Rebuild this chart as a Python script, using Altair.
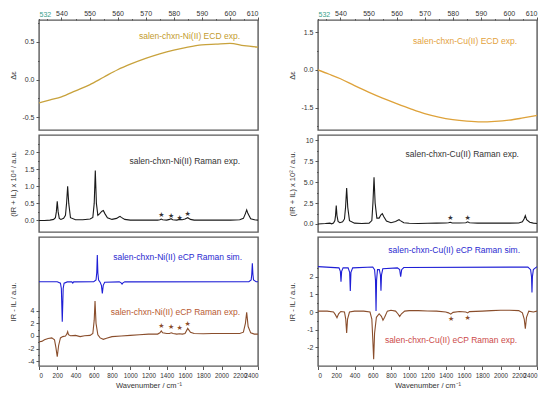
import altair as alt
import pandas as pd

FONT = "Liberation Sans"

# ---------------- data ----------------
ecd_nm = [532, 536, 540, 545, 550, 555, 560, 565, 570, 575, 580, 585, 590, 595, 600, 605, 610]
ni_ecd = [-0.31, -0.27, -0.23, -0.15, -0.07, 0.03, 0.13, 0.21, 0.28, 0.34, 0.39, 0.43, 0.46, 0.47, 0.48, 0.45, 0.43]
cu_ecd = [0.0, -0.17, -0.35, -0.62, -0.88, -1.12, -1.34, -1.55, -1.74, -1.88, -1.98, -2.04, -2.07, -2.05, -2.0, -1.91, -1.81]

ni_raman_x = [0, 60, 120, 160, 180, 190, 200, 210, 222, 240, 270, 290, 302, 314, 326, 345, 400, 480, 560, 590,
              605, 617, 629, 645, 665, 690, 705, 722, 750, 800, 850, 875, 888, 902, 940, 1000, 1100, 1200, 1300,
              1325, 1340, 1355, 1400, 1430, 1447, 1465, 1510, 1540, 1570, 1600, 1630, 1660, 1700, 1800, 1900,
              2000, 2100, 2200, 2240, 2262, 2276, 2290, 2320, 2360, 2400]
ni_raman_y = [0.0, 0.0, 0.01, 0.03, 0.08, 0.25, 0.56, 0.25, 0.06, 0.03, 0.06, 0.15, 0.5, 1.0, 0.5, 0.08, 0.02, 0.02,
              0.04, 0.09, 0.5, 1.47, 0.5, 0.15, 0.2, 0.27, 0.29, 0.2, 0.08, 0.03, 0.06, 0.1, 0.12, 0.09, 0.03, 0.01,
              0.01, 0.01, 0.01, 0.02, 0.04, 0.02, 0.01, 0.03, 0.05, 0.02, 0.01, 0.03, 0.02, 0.04, 0.08, 0.03, 0.01,
              0.01, 0.01, 0.01, 0.01, 0.02, 0.06, 0.2, 0.31, 0.2, 0.05, 0.02, 0.01]

cu_raman_x = [0, 80, 130, 150, 170, 185, 192, 200, 208, 220, 240, 270, 290, 302, 314, 326, 345, 400, 480, 560,
              590, 602, 614, 626, 645, 670, 690, 705, 720, 750, 800, 850, 875, 888, 902, 940, 1000, 1100, 1200,
              1300, 1400, 1430, 1450, 1470, 1550, 1620, 1640, 1660, 1750, 1900, 2000, 2100, 2200, 2240, 2258,
              2272, 2286, 2320, 2360, 2400]
cu_raman_y = [0.0, 0.05, 0.1, 0.02, 0.1, 0.4, 1.0, 2.19, 1.0, 0.3, 0.15, 0.25, 0.6, 2.0, 4.3, 2.0, 0.4, 0.1, 0.05,
              0.1, 0.4, 2.5, 5.58, 2.5, 0.7, 0.7, 1.1, 1.23, 0.9, 0.35, 0.15, 0.3, 0.45, 0.51, 0.4, 0.15, 0.08,
              0.05, 0.08, 0.1, 0.12, 0.15, 0.2, 0.12, 0.12, 0.15, 0.25, 0.15, 0.1, 0.12, 0.1, 0.1, 0.12, 0.25,
              0.6, 0.99, 0.5, 0.2, 0.1, 0.05]

ni_sim_x = [0, 200, 235, 245, 255, 265, 275, 310, 360, 370, 380, 600, 625, 633, 639, 645, 653, 670, 684, 694,
            704, 720, 880, 900, 910, 920, 940, 2300, 2325, 2332, 2338, 2344, 2351, 2380, 2400]
ni_sim_y = [8.58, 8.58, 8.35, 7.5, 2.26, 7.5, 8.35, 8.55, 8.55, 8.35, 8.55, 8.58, 8.85, 10.0, 12.8, 10.0, 8.85,
            8.5, 8.0, 6.74, 8.0, 8.5, 8.55, 8.4, 8.2, 8.4, 8.55, 8.58, 8.85, 9.8, 11.5, 9.8, 8.85, 8.58, 8.58]

ni_cp_x = [0, 30, 60, 100, 140, 170, 185, 200, 215, 235, 260, 290, 305, 314, 323, 345, 400, 450, 500, 560, 590,
           605, 614, 625, 645, 670, 705, 740, 800, 900, 1000, 1100, 1200, 1300, 1325, 1340, 1355, 1400, 1430,
           1450, 1470, 1510, 1540, 1570, 1600, 1630, 1660, 1700, 1800, 1900, 2000, 2100, 2200, 2240, 2262, 2276,
           2292, 2320, 2360, 2400]
ni_cp_y = [-0.9, -0.85, -0.6, -0.4, -0.3, -0.6, -1.8, -3.27, -1.5, -0.3, -0.1, 0.0, 0.3, 0.68, 0.2, 0.05, 0.1,
           -0.1, 0.05, 0.1, 0.4, 2.5, 5.53, 2.0, 0.2, -0.3, -0.52, -0.35, -0.1, 0.0, 0.1, 0.2, 0.3, 0.3, 0.5, 0.8,
           0.5, 0.4, 0.4, 0.5, 0.4, 0.3, 0.35, 0.3, 0.4, 1.2, 0.6, 0.4, 0.35, 0.4, 0.4, 0.4, 0.4, 0.6, 2.0, 3.74,
           1.5, 0.5, 0.3, 0.3]

cu_sim_x = [0, 230, 245, 252, 259, 275, 330, 347, 354, 361, 380, 600, 620, 630, 636, 642, 652, 672, 684, 690,
            696, 710, 870, 895, 906, 917, 940, 2300, 2330, 2340, 2345, 2350, 2360, 2400]
cu_sim_y = [2.57, 2.5, 2.3, 1.72, 2.3, 2.5, 2.5, 2.25, 1.19, 2.25, 2.5, 2.55, 2.4, 1.8, 0.06, 1.8, 2.4, 2.4, 2.1,
            1.2, 2.1, 2.45, 2.5, 2.4, 2.0, 2.4, 2.52, 2.55, 2.4, 2.0, 1.1, 2.0, 2.4, 2.57]

cu_cp_x = [0, 100, 170, 190, 208, 226, 250, 290, 304, 314, 324, 345, 400, 500, 570, 590, 600, 610, 620, 640, 670,
           695, 712, 730, 760, 800, 850, 875, 895, 915, 950, 1000, 1100, 1200, 1300, 1400, 1430, 1455, 1480,
           1550, 1620, 1640, 1660, 1800, 1900, 2000, 2100, 2200, 2240, 2260, 2272, 2285, 2310, 2360, 2400]
cu_cp_y = [0.05, 0.05, 0.0, -0.15, -0.32, -0.1, 0.03, 0.0, -0.4, -1.19, -0.4, 0.0, 0.05, 0.05, 0.0, -0.4, -1.5,
           -2.68, -1.2, -0.3, -0.1, -0.25, -0.47, -0.3, 0.05, 0.1, 0.05, -0.1, -0.25, -0.1, 0.05, 0.08, 0.08,
           0.06, 0.05, 0.0, -0.05, -0.12, -0.02, 0.03, 0.0, -0.05, 0.02, 0.05, 0.08, 0.1, 0.1, 0.08, -0.05, -0.4,
           -0.94, -0.3, 0.05, 0.0, 0.05]

ni_star_x = [1340, 1447, 1540, 1630]
ni_star_raman_y = [0.15, 0.14, 0.08, 0.2]
ni_star_cp_y = [1.58, 1.47, 1.2, 1.85]
cu_star_raman_x = [1450, 1640]
cu_star_raman_y = [0.72, 0.72]
cu_star_cp_x = [1460, 1640]
cu_star_cp_y = [-0.37, -0.32]

nm_ticks = [532] + list(range(535, 611, 5))
wn_ticks = list(range(0, 2401, 200))

W = 219
H_TOP, H_MID, H_BOT = 110, 97, 129
TXT = "#333333"
TICK = "#555555"


def df(xs, ys):
    return pd.DataFrame({"x": xs, "y": ys})


def yaxis(values, step, title, h, fmt=".1f", label_expr=None):
    test = f"abs(datum.value / {step} - round(datum.value / {step})) < 0.001"
    if label_expr is None:
        label_expr = f"{test} ? replace(format(datum.value, '{fmt}'), '\u2212', '-') : ''"
    return alt.Axis(values=values, labelExpr=label_expr, title=title,
                    tickSize={"condition": {"test": test, "value": 3}, "value": 1.5},
                    domain=False, grid=False, labelFontSize=7, titleFontSize=7.5,
                    titleX=-22, titleY=h / 2, labelPadding=2, tickColor=TICK,
                    labelColor=TXT, titleColor=TXT, titleFontWeight="normal",
                    labelOverlap=False)


top_axis = alt.Axis(orient="top", values=nm_ticks,
                    labelExpr="datum.value == 532 || datum.value % 10 == 0 ? datum.label : ''",
                    tickSize={"condition": {"test": "datum.value % 10 == 0", "value": 3}, "value": 1.5},
                    labelColor={"condition": {"test": "datum.value == 532", "value": "#3a9f8c"}, "value": TXT},
                    title=None, domain=False, grid=False, labelFontSize=7, labelPadding=1,
                    tickColor=TICK, labelOverlap=False)

bottom_axis = alt.Axis(values=wn_ticks, labelExpr="format(datum.value, 'd')", tickSize=3.5,
                       title="Wavenumber / cm\u207b\u00b9", titleFontSize=7.5, titleFontWeight="normal",
                       titleColor=TXT, titlePadding=3, domain=False, grid=False, labelFontSize=6.3,
                       labelPadding=3, labelColor=TXT, tickColor=TICK, labelOverlap=False)

x_nm = alt.X("x:Q", scale=alt.Scale(domain=[532, 610], nice=False, zero=False), axis=top_axis)
x_wn_mid = alt.X("x:Q", scale=alt.Scale(domain=[0, 2400], nice=False, zero=False), axis=None)
x_wn_bot = alt.X("x:Q", scale=alt.Scale(domain=[0, 2400], nice=False, zero=False), axis=bottom_axis)


def line(data, x, y, color, width=1.1, interp="linear"):
    return alt.Chart(data).mark_line(color=color, strokeWidth=width, interpolate=interp, clip=True).encode(x=x, y=y)


def label(text, px, py, color):
    return alt.Chart(pd.DataFrame({"t": [text]})).mark_text(
        align="right", baseline="middle", fontSize=8.5, color=color, font=FONT
    ).encode(x=alt.value(px), y=alt.value(py), text="t:N")


def stars(xs, ys, x, y, color):
    return alt.Chart(df(xs, ys)).mark_text(text="\u2605", fontSize=7, color=color, font="DejaVu Sans",
                                           baseline="middle").encode(x=x, y=y)


# ---------- left column (Ni) ----------
y_ni_ecd = alt.Y("y:Q", scale=alt.Scale(domain=[-0.67, 0.79], nice=False, zero=False),
                 axis=yaxis([-0.5, -0.25, 0, 0.25, 0.5, 0.75], 0.5, "\u0394\u03b5", H_TOP))
ni_top = alt.layer(
    line(df(ecd_nm, ni_ecd), x_nm, y_ni_ecd, "#c8a23c", 1.3, "monotone"),
    label("salen-chxn-Ni(II) ECD exp.", 201, 16, "#c39b2e"),
).properties(width=W, height=H_TOP)

y_ni_raman = alt.Y("y:Q", scale=alt.Scale(domain=[-0.34, 2.51], nice=False, zero=False),
                   axis=yaxis([0, 0.25, 0.5, 0.75, 1.0, 1.25, 1.5, 1.75, 2.0, 2.25], 0.5,
                              "(IR + IL) x 10\u2074 / a.u.", H_MID))
ni_mid = alt.layer(
    line(df(ni_raman_x, ni_raman_y), x_wn_mid, y_ni_raman, "#1a1a1a", 1.1),
    stars(ni_star_x, ni_star_raman_y, x_wn_mid, y_ni_raman, "#333333"),
    label("salen-chxn-Ni(II) Raman exp.", 201, 26, "#333333"),
).properties(width=W, height=H_MID)

y_ni_cp = alt.Y("y:Q", scale=alt.Scale(domain=[-4.74, 15.64], nice=False, zero=False),
                axis=yaxis([-4, -3, -2, -1, 0, 1, 2, 3, 4], 2, "IR - IL / a.u.", H_BOT, fmt="d"))
ni_bot = alt.layer(
    line(df(ni_sim_x, ni_sim_y), x_wn_bot, y_ni_cp, "#1f1fd6", 1.1),
    line(df(ni_cp_x, ni_cp_y), x_wn_bot, y_ni_cp, "#8a4e2c", 1.1),
    stars(ni_star_x, ni_star_cp_y, x_wn_bot, y_ni_cp, "#8a4e2c"),
    label("salen-chxn-Ni(II) eCP Raman sim.", 203, 20, "#2a2ad0"),
    label("salen-chxn-Ni(II) eCP Raman exp.", 201, 75, "#b85a32"),
).properties(width=W, height=H_BOT)

left = alt.vconcat(ni_top, ni_mid, ni_bot, spacing=3)

# ---------- right column (Cu) ----------
y_cu_ecd = alt.Y("y:Q", scale=alt.Scale(domain=[-2.39, 1.99], nice=False, zero=False),
                 axis=yaxis([-2.25, -1.5, -0.75, 0, 0.75, 1.5], 1.5, "\u0394\u03b5", H_TOP))
cu_top = alt.layer(
    line(df(ecd_nm, cu_ecd), x_nm, y_cu_ecd, "#dea23a", 1.3, "monotone"),
    label("salen-chxn-Cu(II) ECD exp.", 199, 21, "#e3a23c"),
).properties(width=W, height=H_TOP)

y_cu_raman = alt.Y("y:Q", scale=alt.Scale(domain=[-0.96, 10.63], nice=False, zero=False),
                   axis=yaxis([0, 1.25, 2.5, 3.75, 5.0, 6.25, 7.5, 8.75, 10.0], 2.5,
                              "(IR + IL) x 10\u00b2 / a.u.", H_MID,
                              label_expr="abs(datum.value / 2.5 - round(datum.value / 2.5)) < 0.001 ? (datum.value == 10 ? '10' : format(datum.value, '.1f')) : ''"))
cu_mid = alt.layer(
    line(df(cu_raman_x, cu_raman_y), x_wn_mid, y_cu_raman, "#1a1a1a", 1.1),
    stars(cu_star_raman_x, cu_star_raman_y, x_wn_mid, y_cu_raman, "#333333"),
    label("salen-chxn-Cu(II) Raman exp.", 201, 19, "#333333"),
).properties(width=W, height=H_MID)

y_cu_cp = alt.Y("y:Q", scale=alt.Scale(domain=[-3.06, 4.25], nice=False, zero=False),
                axis=yaxis([-2.5, -2, -1.5, -1, -0.5, 0, 0.5, 1, 1.5, 2, 2.5], 1, "IR - IL / a.u.",
                           H_BOT, fmt="d"))
cu_bot = alt.layer(
    line(df(cu_sim_x, cu_sim_y), x_wn_bot, y_cu_cp, "#1f1fd6", 1.1),
    line(df(cu_cp_x, cu_cp_y), x_wn_bot, y_cu_cp, "#8a4e2c", 1.1),
    stars(cu_star_cp_x, cu_star_cp_y, x_wn_bot, y_cu_cp, "#8a4e2c"),
    label("salen-chxn-Cu(II) eCP Raman sim.", 202, 13, "#2a2ad0"),
    label("salen-chxn-Cu(II) eCP Raman exp.", 199, 103, "#cc4a4a"),
).properties(width=W, height=H_BOT)

right = alt.vconcat(cu_top, cu_mid, cu_bot, spacing=3)

chart = alt.hconcat(left, right, spacing=27).properties(padding=0).configure(
    font=FONT
).configure_view(stroke="#5a5a5a", strokeWidth=1.4)

chart.save("out.html", embed_options={"renderer": "svg", "actions": False})
